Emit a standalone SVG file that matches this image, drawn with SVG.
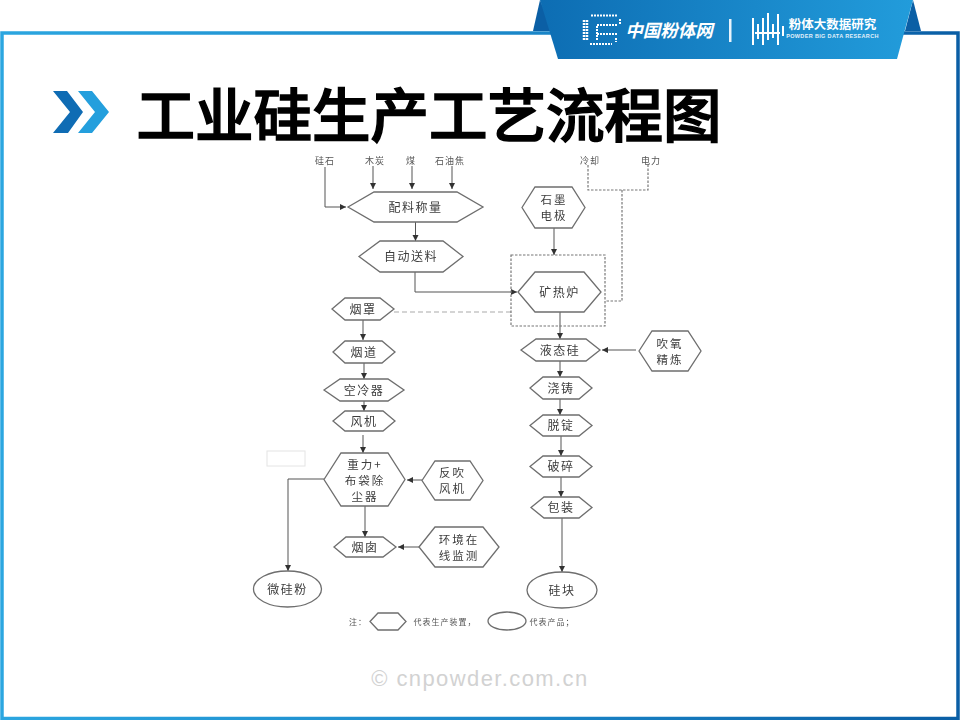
<svg xmlns="http://www.w3.org/2000/svg" width="960" height="720" viewBox="0 0 960 720">
<style>
text{font-family:"Noto Sans CJK SC","Noto Sans",sans-serif;text-anchor:middle}
.n{fill:#fff;stroke:#6e6e6e;stroke-width:1.3}
.l{font-size:12px;fill:#3c3c3c;letter-spacing:1.5px}
.m{font-size:11.500px;fill:#3c3c3c;letter-spacing:2px}
.s{font-size:9px;fill:#555;letter-spacing:1px}
.c{fill:none;stroke:#555;stroke-width:1}
.d{fill:none;stroke:#777;stroke-width:1.2;stroke-dasharray:2.5 1.5}
.g{fill:none;stroke:#aaa;stroke-width:1.2;stroke-dasharray:5 3}
</style>
<defs>
<linearGradient id="fr" gradientUnits="userSpaceOnUse" x1="0" y1="0" x2="960" y2="0"><stop offset="0" stop-color="#2ba6e0"/><stop offset="0.55" stop-color="#1a86c8"/><stop offset="1" stop-color="#0a5ea5"/></linearGradient>
<linearGradient id="bn" x1="0" y1="0" x2="1" y2="0"><stop offset="0" stop-color="#0d6db3"/><stop offset="1" stop-color="#229cdb"/></linearGradient>
<marker id="a" markerUnits="userSpaceOnUse" markerWidth="7" markerHeight="7" refX="6" refY="3" orient="auto"><path d="M0 0L6 3L0 6z" fill="#333"/></marker>
<filter id="b" x="-5%" y="-5%" width="110%" height="110%"><feGaussianBlur stdDeviation="0.35"/></filter>
</defs>
<rect width="960" height="720" fill="#fff"/>
<g id="frame">
<path d="M2 33H958V718.500H2z" fill="none" stroke="url(#fr)" stroke-width="3.500"/>
<path d="M540 0L533 31H553z" fill="#0b5fa5"/>
<path d="M913 0L921 31H905z" fill="#0b5fa5"/>
<path d="M540 0H913L897 59H558z" fill="url(#bn)"/>
</g>
<g id="logo">
<path d="M584 20V41M587 20V41" fill="none" stroke="#fff" stroke-width="2.500" stroke-dasharray="2 1"/>
<path d="M591 15.500H617M590 44H612M597 40V25H618M597 34H618M620 19V24M616 38V42" fill="none" stroke="#fff" stroke-width="2" stroke-dasharray="2 1"/>
<text x="669" y="37" font-size="17.500" font-style="italic" font-weight="700" fill="#fff">中国粉体网</text>
<rect x="729" y="19" width="2.500" height="23" fill="#e8f3fb"/>
<path d="M753 18V45M758 24V39M763 18V45M768 13V40M773 24V38M778 14V45M783 26V36M755 33H780" stroke="#fff" stroke-width="2" fill="none"/>
<text font-weight="700" fill="#fff"><tspan x="832.500" y="29" font-size="12.500">粉体大数据研究</tspan><tspan x="832.500" y="38" font-size="5.500" fill="#e3f1fa" letter-spacing="0.350" style="font-family:'Liberation Sans',sans-serif">POWDER BIG DATA RESEARCH</tspan></text>
</g>
<g id="title">
<path d="M53 91H67L83 112L68 133H53L70 112z" fill="#0f6cb4"/>
<path d="M78 91H92L109 112L92 133H78L95 112z" fill="#249fdd"/>
<text x="429" y="137" font-size="58.500" font-weight="500" fill="#000" stroke="#000" stroke-width="1.500">工业硅生产工艺流程图</text>
</g>
<g filter="url(#b)">
<g id="connectors">
<path class="c" marker-end="url(#a)" d="M325 167V207H346"/>
<path class="c" marker-end="url(#a)" d="M373 166V189"/>
<path class="c" marker-end="url(#a)" d="M412 166V189"/>
<path class="c" marker-end="url(#a)" d="M452 166V189"/>
<path class="c" marker-end="url(#a)" d="M415.500 222V241"/>
<path class="c" marker-end="url(#a)" d="M415 272V292H517"/>
<path class="g" d="M394 312H511"/>
<path class="c" marker-end="url(#a)" d="M363 320V340"/>
<path class="c" marker-end="url(#a)" d="M364 363V379"/>
<path class="c" marker-end="url(#a)" d="M364 401V411"/>
<path class="c" marker-end="url(#a)" d="M363 435V453"/>
<path class="c" marker-end="url(#a)" d="M422 480H407"/>
<path class="c" marker-end="url(#a)" d="M365 506V537"/>
<path class="c" marker-end="url(#a)" d="M419 547H398"/>
<path class="c" marker-end="url(#a)" d="M324 479H288V571"/>
<path class="c" marker-end="url(#a)" d="M554 228V255"/>
<path class="c" marker-end="url(#a)" d="M560 312V339"/>
<path class="c" marker-end="url(#a)" d="M560 361V377"/>
<path class="c" marker-end="url(#a)" d="M560 399V415"/>
<path class="c" marker-end="url(#a)" d="M561 436V456"/>
<path class="c" marker-end="url(#a)" d="M561 477V497"/>
<path class="c" marker-end="url(#a)" d="M562 518V572"/>
<path class="c" marker-end="url(#a)" d="M636 350H602"/>
<path class="d" d="M588 165V190H648V165"/>
<path class="d" d="M622 190V301H605"/>
<rect class="d" x="511" y="255" width="94" height="71"/>
</g>
<g id="inputs">
<text class="s" x="325" y="164">硅石</text>
<text class="s" x="375" y="164">木炭</text>
<text class="s" x="411" y="164">煤</text>
<text class="s" x="450" y="164">石油焦</text>
<text class="s" x="590" y="164">冷却</text>
<text class="s" x="651" y="164">电力</text>
</g>
<g id="n-peiliao"><polygon class="n" points="348,207 374,192 457,192 483,207 457,222 374,222"/><text class="l" x="415.500" y="212">配料称量</text></g>
<g id="n-songliao"><polygon class="n" points="359,256.500 380,241 443,241 463,256.500 443,272 380,272"/><text class="l" x="411" y="261">自动送料</text></g>
<g id="n-yanzhao"><polygon class="n" points="332,309 345,298 380,298 394,309 380,320 345,320"/><text class="l" x="363" y="314">烟罩</text></g>
<g id="n-shimo"><polygon class="n" points="522,207.500 535,187 572,187 585,207.500 572,228 535,228"/><text class="m"><tspan x="554" y="204">石墨</tspan><tspan x="554" y="220">电极</tspan></text></g>
<g id="n-kuangrelu"><polygon class="n" points="518,292 535,272 584,272 601,292 584,312 535,312"/><text class="l" x="559.500" y="297">矿热炉</text></g>
<g id="n-yetaigui"><polygon class="n" points="521,350 536,339 586,339 600,350 586,361 536,361"/><text class="l" x="560" y="355">液态硅</text></g>
<g id="n-chuiyang"><polygon class="n" points="639,351 652,331 688,331 701,351 688,371 652,371"/><text class="m"><tspan x="670" y="348">吹氧</tspan><tspan x="670" y="364">精炼</tspan></text></g>
<g id="n-jiaozhu"><polygon class="n" points="530,388 543,377 579,377 592,388 579,399 543,399"/><text class="l" x="561" y="393">浇铸</text></g>
<g id="n-tuoding"><polygon class="n" points="530,425.500 543,415 579,415 592,425.500 579,436 543,436"/><text class="l" x="561" y="430">脱锭</text></g>
<g id="n-posui"><polygon class="n" points="530,466.500 543,456 579,456 592,466.500 579,477 543,477"/><text class="l" x="561" y="471">破碎</text></g>
<g id="n-baozhuang"><polygon class="n" points="531,507.500 544,497 579,497 592,507.500 579,518 544,518"/><text class="l" x="561" y="512">包装</text></g>
<g id="n-guikuai"><ellipse class="n" cx="562" cy="590" rx="35" ry="18"/><text class="l" x="562" y="595">硅块</text></g>
<g id="n-yandao"><polygon class="n" points="333,352 345,341 382,341 395,352 382,363 345,363"/><text class="l" x="364" y="357">烟道</text></g>
<g id="n-lengqi"><polygon class="n" points="324,390 340,379 388,379 404,390 388,401 340,401"/><text class="l" x="364" y="395">空冷器</text></g>
<g id="n-fengji"><polygon class="n" points="333,421 345,411 383,411 395,421 383,431 345,431"/><text class="l" x="364" y="426">风机</text></g>
<rect x="267" y="451" width="38" height="15" fill="#fff" stroke="#e4e4e4" stroke-width="1"/>
<g id="n-chuchen"><polygon class="n" points="324,479.500 341,453 388,453 405,479.500 388,506 341,506"/><text class="m"><tspan x="365" y="469">重力+</tspan><tspan x="365" y="485">布袋除</tspan><tspan x="365" y="501">尘器</tspan></text></g>
<g id="n-fanchui"><polygon class="n" points="422,480.500 435,461 470,461 483,480.500 470,500 435,500"/><text class="m"><tspan x="452.500" y="477">反吹</tspan><tspan x="452.500" y="493">风机</tspan></text></g>
<g id="n-yancong"><polygon class="n" points="334,547 346,537 383,537 396,547 383,557 346,557"/><text class="l" x="365" y="552">烟囱</text></g>
<g id="n-huanjing"><polygon class="n" points="419,547 435,527 483,527 499,547 483,567 435,567"/><text class="m"><tspan x="459" y="544">环境在</tspan><tspan x="459" y="560">线监测</tspan></text></g>
<g id="n-weiguifen"><ellipse class="n" cx="287.500" cy="589" rx="34" ry="18"/><text class="l" x="287.500" y="594">微硅粉</text></g>
<g id="legend">
<text class="s" x="358" y="625" style="font-size:8px">注：</text>
<polygon class="n" points="370,621.500 378,613 398,613 406,621.500 398,630 378,630"/>
<text class="s" x="445" y="625" style="font-size:8px">代表生产装置，</text>
<ellipse class="n" cx="507" cy="621" rx="19" ry="9"/>
<text class="s" x="552" y="625" style="font-size:8px">代表产品；</text>
</g>
</g>
<text x="480" y="686" font-size="22" fill="#d2d2d2" letter-spacing="1.400" style="font-family:'Liberation Sans',sans-serif">© cnpowder.com.cn</text>
</svg>
